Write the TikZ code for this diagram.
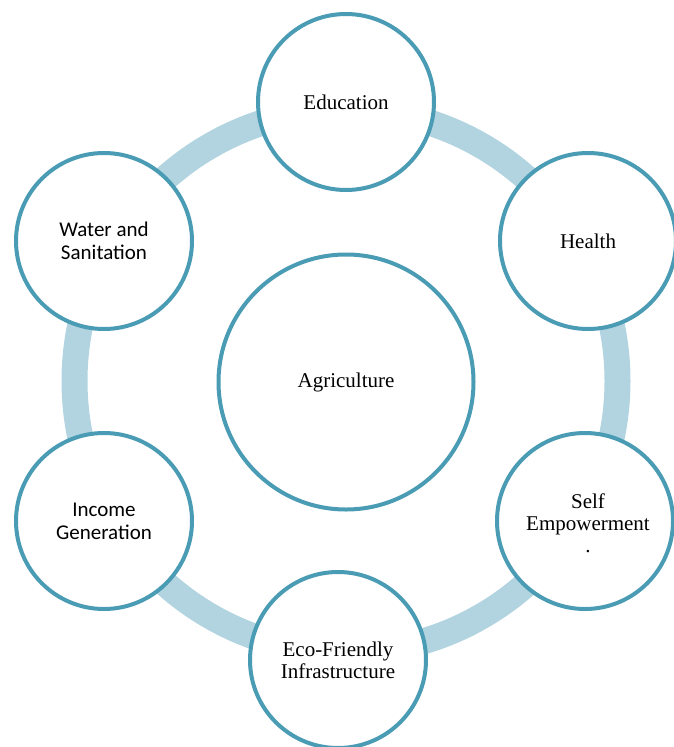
\documentclass[tikz,border=0pt]{standalone}
\usepackage{fontspec}
\setmainfont{Liberation Serif}
\newfontfamily\calfont{Carlito}
\definecolor{ringblue}{RGB}{177,212,224}
\definecolor{edgeblue}{RGB}{74,155,180}
\begin{document}
\begin{tikzpicture}[x=1pt,y=-1pt,
  bubble/.style={circle,draw=edgeblue,line width=4pt,fill=white,minimum size=176pt,inner sep=0pt,align=center},
  serifText/.style={font=\fontsize{21}{22}\selectfont},
  sansText/.style={font=\calfont\fontsize{21}{23}\selectfont},
  ring/.style={draw=ringblue,line width=26pt}]
\useasboundingbox (0,0) rectangle (674,747);
\coordinate (ctr) at (346,381);
\draw[ring] (ctr) circle (271.5pt);
\node[bubble,minimum size=255pt,serifText] (agri) at (346,382) {Agriculture};
\node[bubble,serifText] (edu) at (346,102) {Education};
\node[bubble,serifText] (health) at (588,241) {Health};
\node[bubble,sansText] (water) at (104,241) {Water and\\Sanitation};
\node[bubble,sansText] (income) at (104,521) {Income\\Generation};
\node[bubble] (self) at (585,521) {};
\node[serifText,align=center,inner sep=0pt] (selftext) at (588,523) {Self\\Empowerment\\.};
\node[bubble,serifText] (eco) at (338,660) {Eco-Friendly\\Infrastructure};
\end{tikzpicture}
\end{document}
